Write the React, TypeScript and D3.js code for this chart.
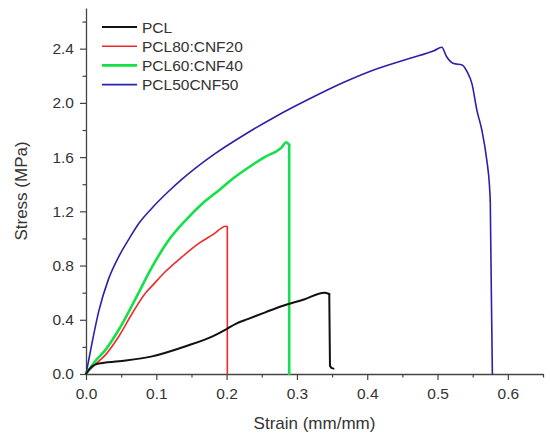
import React, { useRef, useEffect } from "react";
import * as d3 from "d3";

type Pt = [number, number];

const WIDTH = 550;
const HEIGHT = 439;
const MARGIN = { top: 8, right: 7, bottom: 65, left: 86 };

const X_MAX = 0.65;
const Y_MAX = 2.7;
const xMajor = [0, 0.1, 0.2, 0.3, 0.4, 0.5, 0.6];
const yMajor = [0, 0.4, 0.8, 1.2, 1.6, 2.0, 2.4];

// strain (mm/mm), stress (MPa)
const pcl: Pt[] = [
  [0, 0], [0.004, 0.03], [0.009, 0.057], [0.018, 0.077], [0.047, 0.094],
  [0.094, 0.13], [0.142, 0.205], [0.18, 0.278], [0.201, 0.335], [0.213, 0.37],
  [0.23, 0.405], [0.255, 0.455], [0.278, 0.5], [0.31, 0.55], [0.339, 0.6],
  [0.346, 0.59], [0.347, 0.06], [0.349, 0.045], [0.352, 0.04],
];
const pcl80: Pt[] = [
  [0, 0], [0.013, 0.07], [0.028, 0.143], [0.047, 0.28], [0.066, 0.45],
  [0.085, 0.6], [0.094, 0.65], [0.113, 0.756], [0.137, 0.866], [0.161, 0.965],
  [0.18, 1.026], [0.199, 1.09], [0.201, 1.085], [0.201, 0],
];
const pcl60: Pt[] = [
  [0, 0], [0.013, 0.094], [0.028, 0.18], [0.047, 0.33], [0.07, 0.55],
  [0.094, 0.79], [0.118, 0.99], [0.142, 1.136], [0.166, 1.26], [0.19, 1.36],
  [0.206, 1.43], [0.23, 1.52], [0.254, 1.6], [0.278, 1.67], [0.285, 1.71],
  [0.289, 1.69], [0.289, 0],
];
const pcl50: Pt[] = [
  [0, 0], [0.0086, 0.23], [0.018, 0.46], [0.032, 0.7], [0.047, 0.87],
  [0.061, 0.995], [0.075, 1.11], [0.094, 1.225], [0.118, 1.35], [0.135, 1.43],
  [0.182, 1.62], [0.23, 1.78], [0.27, 1.9], [0.318, 2.03], [0.366, 2.15],
  [0.413, 2.25], [0.461, 2.33], [0.495, 2.385], [0.506, 2.41], [0.513, 2.34],
  [0.523, 2.29], [0.535, 2.28], [0.542, 2.23], [0.549, 2.14], [0.556, 1.945],
  [0.563, 1.8], [0.57, 1.58], [0.574, 1.38], [0.575, 1.28], [0.5766, 0.57],
  [0.578, 0],
];

const series = [
  { name: "PCL", data: pcl, color: "#111111", width: 2 },
  { name: "PCL80:CNF20", data: pcl80, color: "#f02828", width: 1.6 },
  { name: "PCL60:CNF40", data: pcl60, color: "#14e04a", width: 2.6 },
  { name: "PCL50CNF50", data: pcl50, color: "#2a22a8", width: 1.6 },
];

const FONT = "'Liberation Sans', Arial, sans-serif";

// split a curve where the specimen breaks (near-vertical drop)
function splitAtBreak(data: Pt[]): [Pt[], Pt[]] {
  for (let i = 1; i < data.length; i++) {
    const dx = data[i][0] - data[i - 1][0];
    const dy = data[i][1] - data[i - 1][1];
    if (dx <= 0 || dy / dx < -200) {
      return [data.slice(0, i), data.slice(i - 1)];
    }
  }
  return [data, []];
}

export default function App() {
  const svgRef = useRef<SVGSVGElement | null>(null);

  useEffect(() => {
    const svg = d3.select(svgRef.current);
    svg.selectAll("*").remove();

    const x = d3
      .scaleLinear()
      .domain([0, X_MAX])
      .range([MARGIN.left, WIDTH - MARGIN.right]);
    const y = d3
      .scaleLinear()
      .domain([0, Y_MAX])
      .range([HEIGHT - MARGIN.bottom, MARGIN.top]);

    const y0 = HEIGHT - MARGIN.bottom;

    // minor ticks
    svg
      .append("g")
      .attr("transform", `translate(0,${y0})`)
      .call(d3.axisBottom(x).tickValues(d3.range(0.05, X_MAX + 0.001, 0.1)).tickSize(3.5).tickFormat(() => ""))
      .call((g) => g.select(".domain").remove());
    svg
      .append("g")
      .attr("transform", `translate(${MARGIN.left},0)`)
      .call(d3.axisLeft(y).tickValues(d3.range(0.2, Y_MAX, 0.4)).tickSize(3.5).tickFormat(() => ""))
      .call((g) => g.select(".domain").remove());

    // major axes
    svg
      .append("g")
      .attr("class", "axis")
      .attr("transform", `translate(0,${y0})`)
      .call(d3.axisBottom(x).tickValues(xMajor).tickSize(6).tickSizeOuter(0).tickPadding(8).tickFormat(d3.format(".1f")));
    svg
      .append("g")
      .attr("class", "axis")
      .attr("transform", `translate(${MARGIN.left},0)`)
      .call(d3.axisLeft(y).tickValues(yMajor).tickSize(6).tickSizeOuter(0).tickPadding(6).tickFormat(d3.format(".1f")));

    svg.selectAll("line").attr("stroke", "#444").attr("stroke-width", 1.2);
    svg.selectAll(".domain").attr("stroke", "#444").attr("stroke-width", 1.3);
    svg
      .selectAll(".axis text")
      .attr("fill", "#333")
      .style("font-family", FONT)
      .style("font-size", "15.5px");

    // curves: smooth loading part, straight break part
    const smooth = d3
      .line<Pt>()
      .x((d) => x(d[0]))
      .y((d) => y(d[1]))
      .curve(d3.curveMonotoneX);
    const straight = d3
      .line<Pt>()
      .x((d) => x(d[0]))
      .y((d) => y(d[1]));
    const order = [1, 3, 2, 0];
    order.forEach((i) => {
      const s = series[i];
      const [load, brk] = splitAtBreak(s.data);
      [
        { d: load, gen: smooth },
        { d: brk, gen: straight },
      ].forEach((part) => {
        if (part.d.length < 2) return;
        svg
          .append("path")
          .datum(part.d)
          .attr("fill", "none")
          .attr("stroke", s.color)
          .attr("stroke-width", s.width)
          .attr("stroke-linejoin", "round")
          .attr("stroke-linecap", "round")
          .attr("d", part.gen);
      });
    });

    // legend
    const lg = svg.append("g").attr("transform", "translate(102,27)");
    series.forEach((s, i) => {
      const row = lg.append("g").attr("transform", `translate(0,${i * 19.2})`);
      row
        .append("line")
        .attr("x1", 0)
        .attr("x2", 35)
        .attr("stroke", s.color)
        .attr("stroke-width", s.width);
      row
        .append("text")
        .attr("x", 40)
        .attr("dy", "0.36em")
        .attr("fill", "#333")
        .style("font-family", FONT)
        .style("font-size", "15.5px")
        .text(s.name);
    });

    // axis titles
    svg
      .append("text")
      .attr("x", (MARGIN.left + WIDTH - MARGIN.right) / 2)
      .attr("y", 429)
      .attr("text-anchor", "middle")
      .attr("fill", "#333")
      .style("font-family", FONT)
      .style("font-size", "17px")
      .text("Strain (mm/mm)");
    svg
      .append("text")
      .attr("transform", `translate(27,${(MARGIN.top + y0) / 2}) rotate(-90)`)
      .attr("text-anchor", "middle")
      .attr("fill", "#333")
      .style("font-family", FONT)
      .style("font-size", "17px")
      .text("Stress (MPa)");
  }, []);

  return (
    <svg
      ref={svgRef}
      width={WIDTH}
      height={HEIGHT}
      style={{ position: "absolute", left: 0, top: 0, background: "#fff" }}
    />
  );
}
